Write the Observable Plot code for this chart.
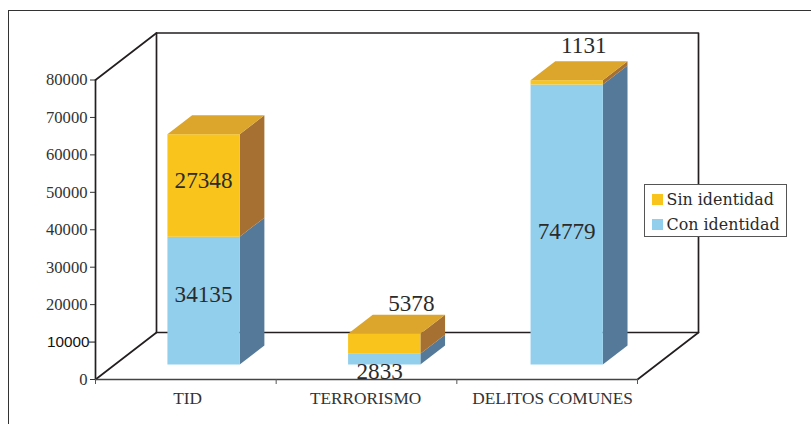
<!DOCTYPE html>
<html><head><meta charset="utf-8">
<script src="https://cdn.jsdelivr.net/npm/d3@7"></script>
<script src="https://cdn.jsdelivr.net/npm/@observablehq/plot@0.6"></script>
<style>
html,body{margin:0;padding:0;background:#fff;overflow:hidden}
#wrap{position:relative;width:811px;height:424px}
#frame{position:absolute;left:8px;top:9.5px;right:-4px;bottom:-4px;border:1.5px solid #333;pointer-events:none}
#legend{position:absolute;left:644px;top:184px;width:141px;height:51px;background:#fff;border:1px solid #555;font:15.9px "DejaVu Serif",serif;color:#2b2b2b}
#legend div{position:absolute;left:6.5px;white-space:nowrap;display:flex;align-items:center;height:20px}
#legend i{display:inline-block;width:11px;height:11px;margin-right:4px}
svg{position:absolute;left:0;top:0}
</style></head><body>
<div id="wrap"><div id="frame"></div><div id="legend"></div></div>
<script>
const categories = ["TID", "TERRORISMO", "DELITOS COMUNES"];
const conIdentidad = [34135, 2833, 74779];
const sinIdentidad = [27348, 5378, 1131];
const yTicks = [0, 20000, 30000, 40000, 50000, 60000, 70000, 80000];
const legendLabels = ["Sin identidad", "Con identidad"];

const blue = {front:"#92cfed", side:"#557999"};
const gold = {front:"#f9c51c", side:"#a67032", top:"#dca52c"};
const ink = "#231f20";
const serif = "'Liberation Serif',serif";

// depth of the floor, in data units of each axis
const DX = 61 / (542 / 3), DY = 47 / (299.5 / 80000);
const z0 = 0.32, z1 = 0.725, barW = 0.40;
const barL = [0.29, 0.29, 0.30];
const px = (c, z) => c + z * DX, py = (v, z) => v + z * DY;

const faces = [];
function poly(id, color, pts){ pts.forEach(([x,y]) => faces.push({id, color, x, y})); }
categories.forEach((cat, i) => {
  const l = i + barL[i], r = l + barW;
  const stack = [[0, conIdentidad[i], blue, "c"], [conIdentidad[i], conIdentidad[i] + sinIdentidad[i], gold, "s"]];
  stack.forEach(([a, b, col, k]) => {
    poly(cat+k+"side", col.side, [[px(r,z0),py(a,z0)],[px(r,z1),py(a,z1)],[px(r,z1),py(b,z1)],[px(r,z0),py(b,z0)]]);
    poly(cat+k+"front", col.front, [[px(l,z0),py(a,z0)],[px(r,z0),py(a,z0)],[px(r,z0),py(b,z0)],[px(l,z0),py(b,z0)]]);
  });
  const t = conIdentidad[i] + sinIdentidad[i];
  poly(cat+"top", gold.top, [[px(l,z0),py(t,z0)],[px(r,z0),py(t,z0)],[px(r,z1),py(t,z1)],[px(l,z1),py(t,z1)]]);
});

// value labels: centre of each segment, nudged to where the source put it
const nudge = {
  "34135":[0, 1600], "27348":[0, 1300],
  "2833":[-0.025, -3300], "5378":[0.15, 10800],
  "74779":[0, -1900], "1131":[0.095, 9800]
};
const labels = [];
categories.forEach((cat, i) => {
  const c = i + barL[i] + barW / 2;
  [[conIdentidad[i], 0], [sinIdentidad[i], conIdentidad[i]]].forEach(([v, base]) => {
    const [nx, ny] = nudge[String(v)];
    labels.push({x: px(c, z0) + nx, y: py(base + v / 2, z0) + ny, text: String(v)});
  });
});
const catNudge = [0.01, -0.005, 0.03];

const wall = [
  {id:"back", pts:[[px(0,1),py(80000,1)],[px(3,1),py(80000,1)],[px(3,1),py(0,1)],[px(0,1),py(0,1)],[px(0,1),py(80000,1)]]},
  {id:"d1", pts:[[0,80000],[px(0,1),py(80000,1)]]},
  {id:"d2", pts:[[0,0],[px(0,1),py(0,1)]]},
  {id:"d3", pts:[[3,0],[px(3,1),py(0,1)]]},
  {id:"left", pts:[[0,0],[0,80000]]}
].flatMap(s => s.pts.map(([x,y]) => ({id:s.id,x,y})));

const chart = Plot.plot({
  width: 811, height: 424,
  marginLeft: 95, marginRight: 174, marginTop: 79.5, marginBottom: 45,
  style: {background:"transparent", overflow:"visible"},
  x: {domain:[0,3]},
  y: {domain:[0,80000]},
  marks: [
    Plot.line(wall, {x:"x", y:"y", z:"id", stroke:ink, strokeWidth:1.7, curve:"linear"}),
    Plot.line(faces, {x:"x", y:"y", z:"id", fill:{value:"color", scale:null}, stroke:"none", curve:"linear-closed"}),
    Plot.ruleY([0], {stroke:"#444", strokeWidth:1.5}),
    Plot.axisY(yTicks, {tickSize:5, tickPadding:3, fontFamily:serif, fontSize:16.6, color:"#333", tickFormat:d=>String(d), label:null, stroke:"#333", strokeWidth:1}),
    Plot.axisY([10000], {tickSize:6, tickPadding:0, fontFamily:"'Liberation Sans',sans-serif", fontSize:15.3, color:"#111", tickFormat:d=>String(d), label:null, stroke:"#111"}),
    Plot.axisX([0,1,2,3], {tickSize:5, tickFormat:()=>"", label:null, stroke:"#555", strokeWidth:1}),
    Plot.text(categories, {x:(d,i)=>i+0.5+catNudge[i], text:d=>d, frameAnchor:"bottom", lineAnchor:"middle", dy:19, fontFamily:serif, fontSize:17.3, fill:"#333"}),
    Plot.text(labels, {x:"x", y:"y", text:"text", fontFamily:serif, fontSize:23.2, fill:"#2b2b2b"})
  ]
});
document.getElementById("wrap").insertBefore(chart, document.getElementById("frame"));

const legend = document.getElementById("legend");
legendLabels.forEach((t, i) => {
  const d = document.createElement("div");
  d.style.top = (4 + i * 25) + "px";
  d.innerHTML = `<i style="background:${i ? blue.front : gold.front}"></i>${t}`;
  legend.appendChild(d);
});
</script>
</body></html>
